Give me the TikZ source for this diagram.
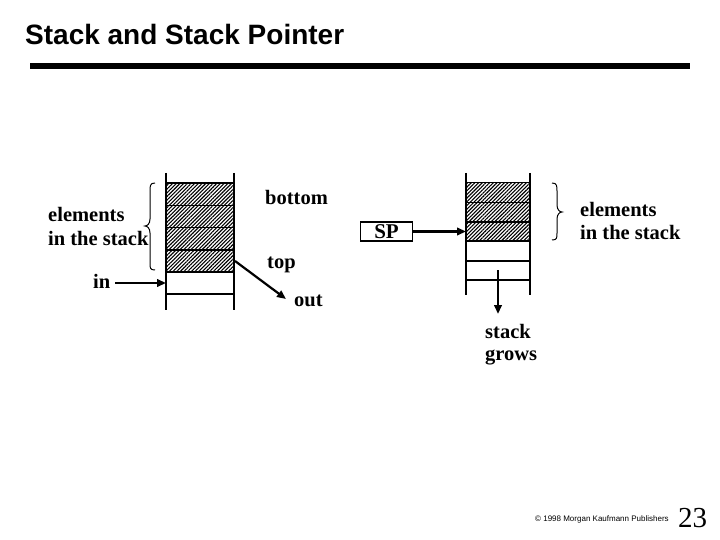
\documentclass[tikz,border=0pt]{standalone}
\usepackage{fontspec}
\setmainfont{Liberation Serif}
\newfontfamily\arialfont{Liberation Sans}
\usetikzlibrary{arrows.meta,patterns.meta}
\begin{document}
\begin{tikzpicture}[x=1pt,y=-1pt,
  lbl/.style={inner sep=0pt,anchor=base west,font=\fontsize{20.5}{23}\selectfont\bfseries},
  stk/.style={line width=1.1pt},
  hatch/.style={pattern={Lines[angle=45,distance=2.6pt,line width=1.1pt]},draw,line width=1.1pt},
  arr/.style={line width=2.2pt,-{Triangle[length=9pt,width=7.5pt]}},
  brace/.style={line width=1pt}]
\useasboundingbox (0,0) rectangle (720,540);
% title
\node[inner sep=0pt,anchor=base west,font=\arialfont\fontsize{28}{32}\selectfont\bfseries] (title) at (25,45) {Stack and Stack Pointer};
\fill (30,63) rectangle (690,69);
% left stack
\foreach \a/\b in {183/205.5,205.5/227.5,227.5/250,250/272}{\draw[hatch] (166,\a) rectangle (234,\b);}
\draw[stk] (166,173) -- (166,310) (234,173) -- (234,310);
\draw[stk] (166,294) -- (234,294);
% left brace
\draw[brace] (155,183) .. controls (150,183) and (150,186) .. (150,191) -- (150,219) .. controls (150,224) and (147,226) .. (145,226) .. controls (147,226) and (150,228) .. (150,233) -- (150,263) .. controls (150,268) and (150,270) .. (155,270);
\node[lbl] (el1) at (48,222) {elements};
\node[lbl] (el2) at (48,245) {in the stack};
\node[lbl] (in) at (93,288) {in};
\coordinate (instart) at (115,283);
\coordinate (inend) at (166,283);
\draw[arr] (instart) -- (inend);
\node[lbl] (bottom) at (265,205) {bottom};
\node[lbl] (top) at (267,268) {top};
\node[lbl] (out) at (294,306) {out};
\coordinate (outstart) at (235,261);
\coordinate (outend) at (286,299);
\draw[arr] (outstart) -- (outend);
% right stack
\foreach \a/\b in {182.5/202.5,202.5/222,222/241}{\draw[hatch] (466,\a) rectangle (530,\b);}
\draw[stk] (466,173) -- (466,295) (530,173) -- (530,295);
\draw[stk] (466,261) -- (530,261) (466,280) -- (530,280);
% SP box
\node[draw,line width=1.1pt,minimum width=52pt,minimum height=19pt,inner sep=0pt,font=\fontsize{21}{23}\selectfont\bfseries] (sp) at (386.5,231.5) {SP};
\coordinate (spend) at (466,231.5);
\draw[arr] (sp.east) -- (spend);
% right brace
\draw[brace] (552,183) .. controls (557,183) and (557,186) .. (557,191) -- (557,205) .. controls (557,210) and (560,212) .. (562,212) .. controls (560,212) and (557,214) .. (557,219) -- (557,233) .. controls (557,238) and (557,240) .. (552,240);
\node[lbl] (er1) at (580,216) {elements};
\node[lbl] (er2) at (580,240) {in the stack};
% stack grows
\coordinate (gstart) at (498,270);
\coordinate (gend) at (498,314);
\node[lbl] (stack) at (485,338) {stack};
\node[lbl] (grows) at (485,360) {grows};
\draw[arr] (gstart) -- (gend);
% footer
\node[inner sep=0pt,anchor=base west,font=\arialfont\fontsize{8}{9}\selectfont] (copy) at (535,521) {© 1998 Morgan Kaufmann Publishers};
\node[inner sep=0pt,anchor=base west,font=\fontsize{29}{32}\selectfont] (pg) at (678,527) {23};
\end{tikzpicture}
\end{document}
